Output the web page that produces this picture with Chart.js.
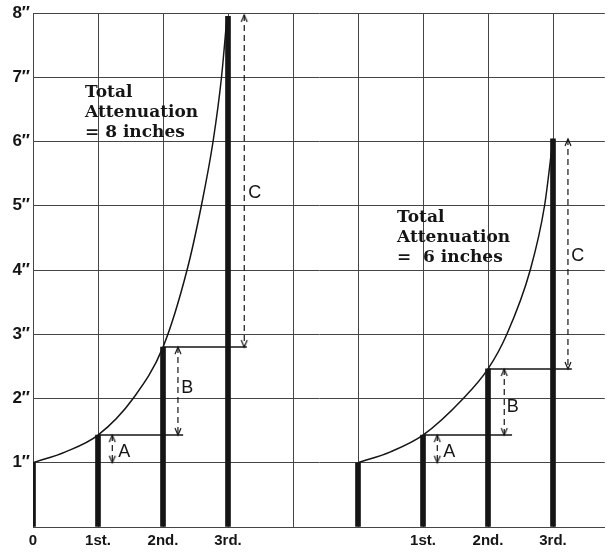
<!DOCTYPE html>
<html>
<head>
<meta charset="utf-8">
<script src="https://cdn.jsdelivr.net/npm/chart.js@4"></script>
<style>
  html, body { margin: 0; padding: 0; background: #fff; }
  canvas { display: block; }
</style>
</head>
<body>
<canvas id="attenuationChart" width="610" height="552"></canvas>
<script>
// axis ticks
const xTicks = [0, 1, 2, 3, 4, 5, 6, 7, 8];
const xTickLabels = ["0", "1st.", "2nd.", "3rd.", "", "", "1st.", "2nd.", "3rd."];
const yTicks = [0, 1, 2, 3, 4, 5, 6, 7, 8];
const yTickLabels = ["", "1″", "2″", "3″", "4″", "5″", "6″", "7″", "8″"];

// thick bars (inches)
const barX = [0, 1, 2, 3, 5, 6, 7, 8];
const barHeight = [1, 1.43, 2.8, 7.95, 1, 1.43, 2.46, 6.04];

// curve for total attenuation = 8 inches
const curve8X = [0, 0.5, 1, 1.54, 2, 2.37, 2.59, 2.77, 2.9, 2.985];
const curve8Y = [1, 1.17, 1.43, 2, 2.8, 4, 5, 6, 7, 7.95];

// curve for total attenuation = 6 inches
const curve6X = [5, 5.5, 6, 6.62, 7, 7.29, 7.65, 7.87, 8];
const curve6Y = [1, 1.17, 1.43, 2, 2.46, 3, 4, 5, 6.04];

// horizontal step lines
const stepStartX = [1, 2, 6, 7];
const stepEndX = [2.31, 3.29, 7.37, 8.29];
const stepLevel = [1.43, 2.8, 1.43, 2.46];

// dashed double arrows A, B, C
const arrowNames = ["A", "B", "C", "A", "B", "C"];
const arrowX = [1.22, 2.23, 3.25, 6.22, 7.25, 8.23];
const arrowTop = [1.43, 2.8, 7.97, 1.43, 2.46, 6.04];
const arrowBottom = [1, 1.43, 2.8, 1, 1.43, 2.46];

// text placement (data units)
const arrowNamePos = [[1.31, 1.17], [2.28, 2.16], [3.31, 5.2], [6.31, 1.17], [7.29, 1.87], [8.28, 4.22]];
const notes = [
  { x: 0.8, y: 6.69, lines: ["Total", "Attenuation", "= 8 inches"] },
  { x: 5.6, y: 4.75, lines: ["Total", "Attenuation", "=  6 inches"] },
];

const ink = "#151515";
const unitPx = 65; // width of one grid cell

function chevron(up) {
  const c = document.createElement("canvas");
  c.width = 16;
  c.height = 16;
  const g = c.getContext("2d");
  g.strokeStyle = ink;
  g.lineWidth = 1.2;
  g.beginPath();
  const d = up ? 7 : -7;
  g.moveTo(5, 8 + d);
  g.lineTo(8, 8);
  g.lineTo(11, 8 + d);
  g.stroke();
  return c;
}
const arrowUp = chevron(true);
const arrowDown = chevron(false);

const lineDefaults = {
  type: "line",
  borderColor: ink,
  borderWidth: 1.5,
  pointRadius: 0,
  fill: false,
};

const datasets = [];

datasets.push({
  type: "bar",
  data: barX.map((x, i) => ({ x: x, y: barHeight[i] })),
  backgroundColor: ink,
  barThickness: 5,
});

datasets.push({
  ...lineDefaults,
  data: curve8X.map((x, i) => ({ x: x, y: curve8Y[i] })),
  cubicInterpolationMode: "monotone",
});
datasets.push({
  ...lineDefaults,
  data: curve6X.map((x, i) => ({ x: x, y: curve6Y[i] })),
  cubicInterpolationMode: "monotone",
});

stepLevel.forEach((lvl, i) => {
  datasets.push({
    ...lineDefaults,
    data: [{ x: stepStartX[i], y: lvl }, { x: stepEndX[i], y: lvl }],
  });
});

arrowX.forEach((ax, i) => {
  datasets.push({
    ...lineDefaults,
    borderWidth: 1.2,
    borderDash: [6, 4],
    data: [{ x: ax, y: arrowTop[i] }, { x: ax, y: arrowBottom[i] }],
    pointRadius: 1,
    pointStyle: (c) => (c.dataIndex === 0 ? arrowUp : arrowDown),
  });
});

const textPlugin = {
  id: "textNotes",
  afterDatasetsDraw(chart) {
    const { ctx, scales } = chart;
    const sx = scales.x, sy = scales.y;
    ctx.save();
    ctx.fillStyle = ink;
    ctx.textAlign = "left";
    ctx.textBaseline = "alphabetic";
    ctx.font = 'bold 17px "DejaVu Serif"';
    notes.forEach((n) => {
      const px = sx.getPixelForValue(n.x);
      const py = sy.getPixelForValue(n.y);
      n.lines.forEach((t, k) => ctx.fillText(t, px, py + k * 20));
    });
    ctx.font = '18px "Liberation Sans"';
    ctx.textBaseline = "middle";
    arrowNames.forEach((t, i) => {
      ctx.fillText(t, sx.getPixelForValue(arrowNamePos[i][0]), sy.getPixelForValue(arrowNamePos[i][1]));
    });
    ctx.restore();
  },
};

const gridColor = "#454545";
const noPadding = () => ({ left: 0, top: 0, right: 0, bottom: 0 });

const chart = new Chart(document.getElementById("attenuationChart"), {
  type: "line",
  data: { datasets: datasets },
  options: {
    responsive: false,
    animation: false,
    layout: { padding: { top: 13, right: 0, left: 0, bottom: 0 } },
    plugins: { legend: { display: false }, tooltip: { enabled: false } },
    scales: {
      x: {
        type: "linear",
        min: 0,
        max: 8.877,
        offset: false,
        afterBuildTicks: (s) => { s.ticks = xTicks.map((v) => ({ value: v })); },
        afterFit: (s) => { s.height = 25; s.getPadding = noPadding; },
        grid: { color: gridColor, lineWidth: 1, drawTicks: false, offset: false },
        border: { color: gridColor, width: 1 },
        ticks: {
          padding: 5,
          color: ink,
          font: { family: "Liberation Sans", size: 15, weight: "bold" },
          maxRotation: 0,
          autoSkip: false,
          callback: (v, i) => xTickLabels[i],
        },
      },
      y: {
        min: 0,
        max: 8,
        afterBuildTicks: (s) => { s.ticks = yTicks.map((v) => ({ value: v })); },
        afterFit: (s) => { s.width = 33; s.getPadding = noPadding; },
        grid: { color: gridColor, lineWidth: 1, drawTicks: false },
        border: { color: gridColor, width: 1 },
        ticks: {
          padding: 3,
          color: ink,
          font: { family: "Liberation Sans", size: 17, weight: "bold" },
          callback: (v, i) => yTickLabels[i],
        },
      },
    },
  },
  plugins: [textPlugin],
});

// keep grid cells square-ish whatever width the plot area ended up with
const area = chart.chartArea;
chart.options.scales.x.max = (area.right - area.left) / unitPx;
chart.update();
</script>
</body>
</html>
